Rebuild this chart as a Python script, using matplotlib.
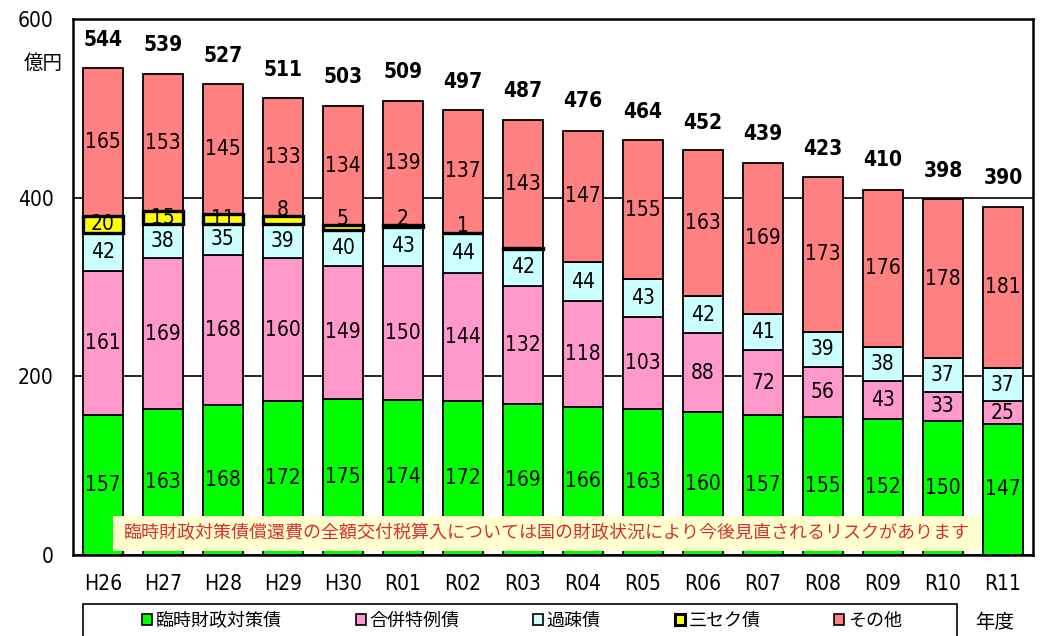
import matplotlib
matplotlib.use("Agg")
import matplotlib.pyplot as plt
import numpy as np
from matplotlib import font_manager
from matplotlib.patches import Rectangle

plt.rcParams['font.family'] = ['Noto Sans CJK JP', 'DejaVu Sans']

years = ['H26', 'H27', 'H28', 'H29', 'H30', 'R01', 'R02', 'R03',
         'R04', 'R05', 'R06', 'R07', 'R08', 'R09', 'R10', 'R11']
rinzai = [157, 163, 168, 172, 175, 174, 172, 169, 166, 163, 160, 157, 155, 152, 150, 147]
gappei = [161, 169, 168, 160, 149, 150, 144, 132, 118, 103, 88, 72, 56, 43, 33, 25]
kaso = [42, 38, 35, 39, 40, 43, 44, 42, 44, 43, 42, 41, 39, 38, 37, 37]
sanseku = [20, 15, 11, 8, 5, 2, 1, 0.4, 0, 0, 0, 0, 0, 0, 0, 0]
sonota = [165, 153, 145, 133, 134, 139, 137, 143, 147, 155, 163, 169, 173, 176, 178, 181]
totals = [544, 539, 527, 511, 503, 509, 497, 487, 476, 464, 452, 439, 423, 410, 398, 390]

names = ['臨時財政対策債', '合併特例債', '過疎債', '三セク債', 'その他']
colors = ['#00FF00', '#FF99CC', '#CCFFFF', '#FFFF00', '#FF8080']
note = '臨時財政対策債償還費の全額交付税算入については国の財政状況により今後見直されるリスクがあります'

# 数字用の細めのフォントを探す
fonts = font_manager.fontManager.ttflist
if any(f.name == 'Liberation Sans Narrow' for f in fonts):
    num_kw = dict(family=['Liberation Sans Narrow', 'Noto Sans CJK JP'])
elif any(f.name == 'DejaVu Sans' and f.stretch == 'condensed' for f in fonts):
    num_kw = dict(family=['DejaVu Sans'], stretch='condensed')
else:
    num_kw = dict(family=['Noto Sans CJK JP'])

fig = plt.figure(figsize=(10.52, 6.36), dpi=100)
ax = fig.add_axes([73 / 1052, 1 - 555 / 636, 960 / 1052, 536 / 636])

x = np.arange(len(years))
w = 0.667
series = [rinzai, gappei, kaso, sanseku, sonota]
bottom = np.zeros(len(years))
for i, vals in enumerate(series):
    vals = np.array(vals, dtype=float)
    if i == 3:
        mask = vals > 0
        ax.bar(x[mask], vals[mask], w, bottom=bottom[mask], color=colors[i],
               edgecolor='black', linewidth=2.4, zorder=4)
    else:
        ax.bar(x, vals, w, bottom=bottom, color=colors[i],
               edgecolor='black', linewidth=1.3, zorder=3)
    for xi, v, b in zip(x, vals, bottom):
        if v < 1:
            continue
        if i == 3 and v < 10:
            ypos = b + v + 7
        else:
            ypos = b + v / 2
        ax.text(xi, ypos, f'{v:.0f}', ha='center', va='center',
                fontsize=15, zorder=5, **num_kw)
    bottom += vals

for xi, t in zip(x, totals):
    ax.text(xi, t + 32, str(t), ha='center', va='center', fontsize=15,
            fontweight='bold', **num_kw)

ax.set_xlim(-0.5, 15.5)
ax.set_ylim(0, 600)
ax.set_yticks([0, 200, 400, 600])
ax.set_yticklabels(['0', '200', '400', '600'], fontsize=15, **num_kw)
ax.set_xticks(x)
ax.set_xticklabels(years, fontsize=15, **num_kw)
ax.tick_params(axis='x', length=0, pad=14)
ax.tick_params(axis='y', length=0, pad=14)
ax.grid(axis='y', color='black', linewidth=1.2, zorder=0)
ax.set_axisbelow(True)
for s in ax.spines.values():
    s.set_linewidth(1.8)

fig.text(43 / 1052, 1 - 63 / 636, '億円', ha='center', va='center', fontsize=14)

# 注意書き
fig.patches.append(Rectangle((113 / 1052, 1 - 551 / 636), 868 / 1052, 35 / 636,
                             transform=fig.transFigure, facecolor='#FFFFD0',
                             edgecolor='none', zorder=10))
fig.text(547 / 1052, 1 - 533 / 636, note, ha='center', va='center',
         fontsize=13, color='#D83030', zorder=11)

# 凡例（枠は別に描く）
fig.patches.append(Rectangle((83 / 1052, -0.05), 874 / 1052, 0.05 + 32 / 636,
                             transform=fig.transFigure, facecolor='white',
                             edgecolor='black', linewidth=1.2, zorder=1))
handles = [Rectangle((0, 0), 1, 1, facecolor=c, edgecolor='black',
                     linewidth=2.2 if n == '三セク債' else 1.2)
           for n, c in zip(names, colors)]
fig.legend(handles, names, loc='center', ncol=5,
           bbox_to_anchor=(522 / 1052, 1 - 621 / 636),
           fontsize=13, frameon=False,
           handlelength=0.55, handleheight=0.55, handletextpad=0.2,
           columnspacing=4.1, borderpad=0, borderaxespad=0)

fig.text(995 / 1052, 1 - 622 / 636, '年度', ha='center', va='center', fontsize=14)

fig.savefig('out.png', dpi=100)
